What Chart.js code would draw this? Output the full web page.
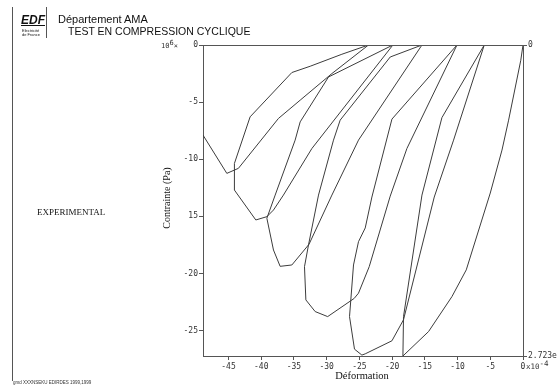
<!DOCTYPE html>
<html>
<head>
<meta charset="utf-8">
<script src="https://cdn.jsdelivr.net/npm/chart.js"></script>
<style>
body{margin:0;background:#fff;}
#wrap{position:relative;width:557px;height:387px;overflow:hidden;background:#fff;}
#mycanvas{position:absolute;left:0;top:0;}
.t{position:absolute;white-space:nowrap;color:#111;line-height:1;}
.sans{font-family:"Liberation Sans",Arial,sans-serif;}
.serif{font-family:"Liberation Serif","Times New Roman",serif;}
.mono{font-family:"DejaVu Sans Mono",monospace;color:#333;}
.ln{position:absolute;background:#555;}
</style>
</head>
<body>
<div id="wrap">
<canvas id="mycanvas" width="557" height="387"></canvas>

<div class="ln" style="left:12px;top:7px;width:1px;height:374px"></div>
<div class="ln" style="left:46px;top:7px;width:1px;height:31px"></div>
<div class="t sans" style="left:21px;top:14px;font-size:12px;font-weight:bold;font-style:italic;text-decoration:underline">EDF</div>
<div class="t sans" style="left:22px;top:29px;font-size:4px">Electricité</div>
<div class="t sans" style="left:22px;top:33px;font-size:4px">de France</div>
<div class="t sans" style="left:58px;top:13.6px;font-size:11px">Département AMA</div>
<div class="t sans" style="left:68px;top:25.6px;font-size:10.5px">TEST EN COMPRESSION CYCLIQUE</div>
<div class="t serif" style="left:37px;top:208.4px;font-size:9px">EXPERIMENTAL</div>
<div class="t serif" style="left:166.5px;top:197.5px;font-size:10px;transform:translate(-50%,-50%) rotate(-90deg)">Contrainte (Pa)</div>
<div class="t serif" style="left:362px;top:371.2px;font-size:10.5px;transform:translateX(-50%)">Déformation</div>
<div class="t mono" style="left:161px;top:42.5px;font-size:7px">10<span style="position:relative;top:-2.5px">6</span>×</div>
<div class="t mono" style="left:526px;top:363px;font-size:7.5px">x10<span style="position:relative;top:-3.5px">-4</span></div>
<div class="t sans" style="left:13px;top:381px;font-size:4.5px;color:#333">gmd XXXNSEKU EDIRDES 1999,1999</div>
</div>

<script>
// axes
var xMin = -48.9;
var yMin = -27.23;
var xTicks = [-45, -40, -35, -30, -25, -20, -15, -10, -5, 0];
var xLabels = ["-45", "-40", "-35", "-30", "-25", "-20", "-15", "-10", "-5", "0"];
var yTicks = [0, -5, -10, -15, -20, -25];
var yLabels = ["0", "-5", "-10", "15", "-20", "-25"];
var y2Ticks = [0, -27.23];
var y2Labels = ["0", "2.723e"];

// one continuous path, cycle after cycle (x 1e-4, y 1e6 Pa)
var deformation = [
	0, -0.34, -2.20, -3.21, -5.0, -8.67, -10.86, -14.43, -18.35,
	-18.26, -15.44, -12.39, -5.92,
	-10.61, -13.56, -18.26, -20.03, -24.11, -24.62,
	-25.75, -26.51, -25.9, -25.14, -24.11, -23.09, -20.03, -10.09,
	-17.74, -20.29, -23.5, -25.14, -25.8, -29.85,
	-31.76, -33.18, -33.39, -32.78, -31.25, -28.96, -27.94, -20.29, -15.44,
	-25.14, -29.2, -32.7, -35.32, -37.11,
	-38.13, -39.14, -37.87, -34.82, -34.05, -29.72, -19.88,
	-32.26, -36.61, -38.13, -39.14, -40.83,
	-44.1, -44.1, -41.7, -35.32, -32.52, -27.68, -23.61,
	-29.2, -34.05, -37.37, -43.49, -45.26, -48.9
];
var contrainte = [
	0, -1.34, -6.58, -9.2, -12.96, -19.69, -22.03, -25.09, -27.23,
	-23.78, -13.14, -6.36, 0,
	-8.33, -13.31, -24.06, -25.9, -27.04, -27.15,
	-26.63, -23.78, -19.26, -17.22, -16.02, -13.31, -6.49, 0,
	-9.06, -13.23, -19.41, -21.73, -22.19, -23.78,
	-23.34, -22.32, -19.41, -17.51, -13.14, -8.33, -6.58, -1.05, 0,
	-8.33, -13.14, -17.45, -19.26, -19.38,
	-17.95, -15.17, -13.14, -8.33, -6.73, -2.8, 0,
	-9.06, -13.14, -14.45, -15.03, -15.32,
	-12.7, -10.37, -6.29, -2.41, -1.86, -0.81, 0,
	-2.5, -4.83, -6.43, -10.8, -11.24, -7.89
];

var points = [];
for (var i in deformation){
	points.push({x: deformation[i], y: contrainte[i]});
}

var tickFont = {family: "DejaVu Sans Mono", size: 8};

var frame = {
	id: 'frame',
	afterDraw: function(chart){
		var a = chart.chartArea;
		var c = chart.ctx;
		c.save();
		c.strokeStyle = '#555';
		c.lineWidth = 1;
		c.beginPath();
		c.moveTo(a.left, Math.round(a.top) + 0.5);
		c.lineTo(a.right, Math.round(a.top) + 0.5);
		c.stroke();
		c.restore();
	}
};

var ctx = document.getElementById("mycanvas");
var graph = new Chart(ctx, {
	type: 'scatter',
	data: {
		datasets: [{
			data: points,
			showLine: true,
			fill: false,
			tension: 0,
			borderColor: "#3c3c3c",
			borderWidth: 1,
			pointRadius: 0
		}]
	},
	options: {
		responsive: false,
		animation: false,
		devicePixelRatio: 1,
		layout: {padding: {top: 45, left: 0, right: 0, bottom: 0}},
		plugins: {legend: {display: false}, tooltip: {enabled: false}},
		scales: {
			x: {
				type: 'linear', position: 'bottom', min: xMin, max: 0,
				afterBuildTicks: function(s){ s.ticks = xTicks.map(function(v){ return {value: v}; }); },
				afterFit: function(s){ s.height = 31; },
				ticks: {callback: function(v, i){ return xLabels[i]; }, font: tickFont, color: '#333', padding: 2, maxRotation: 0, autoSkip: false},
				grid: {drawOnChartArea: false, tickLength: 4, color: '#555'},
				border: {color: '#555'}
			},
			y: {
				type: 'linear', position: 'left', min: yMin, max: 0,
				afterBuildTicks: function(s){ s.ticks = yTicks.map(function(v){ return {value: v}; }); },
				afterFit: function(s){ s.width = 203; },
				ticks: {callback: function(v, i){ return yLabels[i]; }, font: tickFont, color: '#333', padding: 1, autoSkip: false},
				grid: {drawOnChartArea: false, tickLength: 4, color: '#555'},
				border: {color: '#555'}
			},
			y2: {
				type: 'linear', position: 'right', min: yMin, max: 0,
				afterBuildTicks: function(s){ s.ticks = y2Ticks.map(function(v){ return {value: v}; }); },
				afterFit: function(s){ s.width = 34; },
				ticks: {callback: function(v, i){ return y2Labels[i]; }, font: tickFont, color: '#333', padding: 1, autoSkip: false},
				grid: {drawOnChartArea: false, tickLength: 4, color: '#555'},
				border: {color: '#555'}
			}
		}
	},
	plugins: [frame]
});
</script>
</body>
</html>
